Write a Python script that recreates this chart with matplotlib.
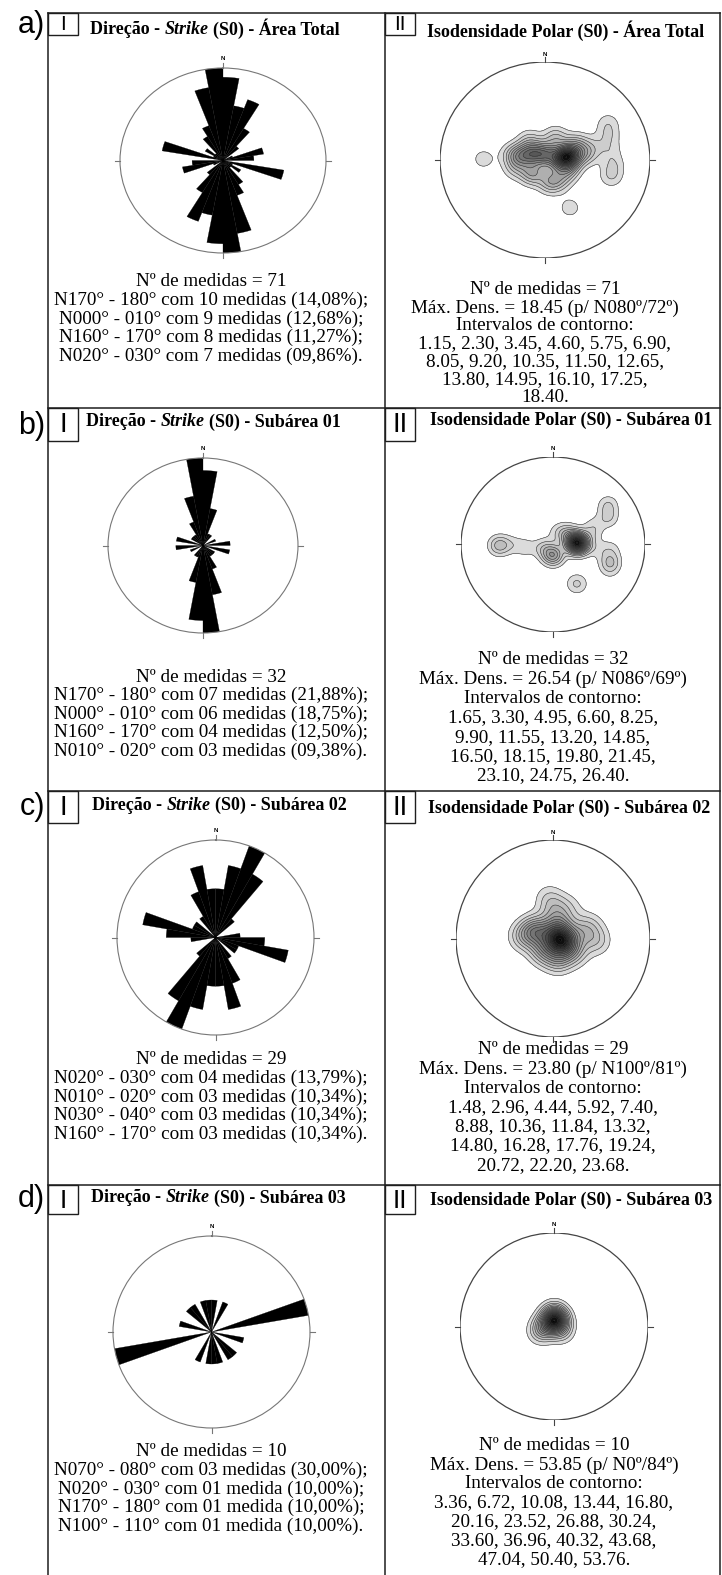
import numpy as np
import matplotlib.pyplot as plt
from matplotlib.patches import Circle, Rectangle

W, H = 722, 1575

# ----------------- dados -----------------
rotulos = ['a)', 'b)', 'c)', 'd)']
areas = ['Área Total', 'Subárea 01', 'Subárea 02', 'Subárea 03']

# contagens por classe de 10° (N000-010, N010-020, ..., N170-180)
rosa_a = [9, 6, 7, 4, 2, 0, 1, 4, 3, 0, 6, 1, 2, 1, 3, 4, 8, 10]
rosa_b = [6, 3, 1, 1, 0, 0, 1, 0, 2, 0, 2, 0, 1, 1, 1, 2, 4, 7]
rosa_c = [2, 3, 4, 3, 1, 0, 0, 0, 1, 2, 3, 1, 1, 0, 1, 2, 3, 2]
rosa_d = [1, 0, 1, 0, 0, 0, 0, 3, 0, 0, 1, 0, 0, 1, 1, 0, 1, 1]

# polos (trend / plunge) e peso relativo de cada agrupamento
trend_a = [80, 90, 0, 297, 280, 254, 221, 167, 143, 114, 62, 24, 323, 81, 281,
           73, 58, 68, 81, 94, 105, 271, 154]
plunge_a = [72, 80, 85, 79, 70, 66, 75, 71, 70, 70, 62, 70, 70, 58, 63,
            50, 30, 35, 37, 35, 35, 41, 45]
peso_a = [8, 3, 4, 4, 3, 1.5, 3, 2.5, 1.5, 2, 2, 2, 1.5, 2, 1,
          0.8, 1, 1, 0.8, 1, 1.2, 1, 1]

trend_b = [86, 51, 90, 180, 248, 264, 270, 269, 20, 72, 53, 63, 95, 108, 116, 150, 64, 96]
plunge_b = [69, 74, 64, 80, 81, 65, 53, 41, 78, 53, 26, 33, 37, 35, 32, 47, 49, 50]
peso_b = [10, 2, 1.5, 4, 1.5, 1, 0.8, 2.5, 0.8, 0.8, 1.4, 1.4, 0.9, 2, 0.6, 1.6, 0.7, 0.7]

trend_c = [100, 0, 294, 220, 166, 17, 0, 27, 75, 93, 274, 122, 72, 353]
plunge_c = [81, 89, 74, 77, 73, 77, 63, 62, 65, 53, 65, 69, 57, 55]
peso_c = [5, 2.5, 3, 2, 2, 2, 1, 0.8, 1, 1.2, 1.5, 1.5, 0.8, 0.6]

trend_d = [0, 45, 270, 248, 122, 0]
plunge_d = [84, 84, 82, 77, 82, 78]
peso_d = [8, 3, 3, 2, 2, 2]

n_medidas = [71, 32, 29, 10]
dens_max = [18.45, 26.54, 23.80, 53.85]
pos_max = ['N080º/72º', 'N086º/69º', 'N100º/81º', 'N0º/84º']

intervalos_a = [1.15, 2.30, 3.45, 4.60, 5.75, 6.90, 8.05, 9.20, 10.35, 11.50,
                12.65, 13.80, 14.95, 16.10, 17.25, 18.40]
intervalos_b = [1.65, 3.30, 4.95, 6.60, 8.25, 9.90, 11.55, 13.20, 14.85, 16.50,
                18.15, 19.80, 21.45, 23.10, 24.75, 26.40]
intervalos_c = [1.48, 2.96, 4.44, 5.92, 7.40, 8.88, 10.36, 11.84, 13.32, 14.80,
                16.28, 17.76, 19.24, 20.72, 22.20, 23.68]
intervalos_d = [3.36, 6.72, 10.08, 13.44, 16.80, 20.16, 23.52, 26.88, 30.24, 33.60,
                36.96, 40.32, 43.68, 47.04, 50.40, 53.76]
quebras = [[6, 5, 4, 1], [5, 4, 4, 3], [5, 4, 4, 3], [5, 4, 4, 3]]

maiores = [
    ['N170° - 180° com 10 medidas (14,08%);', 'N000° - 010° com 9 medidas (12,68%);',
     'N160° - 170° com 8 medidas (11,27%);', 'N020° - 030° com 7 medidas (09,86%).'],
    ['N170° - 180° com 07 medidas (21,88%);', 'N000° - 010° com 06 medidas (18,75%);',
     'N160° - 170° com 04 medidas (12,50%);', 'N010° - 020° com 03 medidas (09,38%).'],
    ['N020° - 030° com 04 medidas (13,79%);', 'N010° - 020° com 03 medidas (10,34%);',
     'N030° - 040° com 03 medidas (10,34%);', 'N160° - 170° com 03 medidas (10,34%).'],
    ['N070° - 080° com 03 medidas (30,00%);', 'N020° - 030° com 01 medida (10,00%);',
     'N170° - 180° com 01 medida (10,00%);', 'N100° - 110° com 01 medida (10,00%).'],
]

rosas = [rosa_a, rosa_b, rosa_c, rosa_d]
polos = [(trend_a, plunge_a, peso_a), (trend_b, plunge_b, peso_b),
         (trend_c, plunge_c, peso_c), (trend_d, plunge_d, peso_d)]
intervalos = [intervalos_a, intervalos_b, intervalos_c, intervalos_d]

# ----------------- layout (pixels) -----------------
topo = [13, 408, 791, 1185]
caixa_alt = [22, 33, 32, 29]
num_tam = [15, 20, 20, 19]
rotulo_y = [25, 426, 807, 1199]
caixa_rosa = [(120, 68, 326, 253), (108, 458, 298, 633), (117, 840, 314, 1035), (113, 1236, 310, 1428)]
caixa_rede = [(440, 62, 650, 258), (461, 457, 645, 632), (456, 840, 650, 1037), (460, 1233, 648, 1420)]
tit_esq = [(90, 29), (86, 422), (92, 805), (91, 1198)]
tit_dir = [(427, 31), (430, 420), (428, 808), (430, 1200)]
txt_esq_y0 = [282, 677, 1060, 1452]
txt_dir_y0 = [290, 660, 1050, 1446]
txt_dir_passo = [18.0, 19.3, 19.2, 19.0]
sigma = [0.08, 0.08, 0.1, 0.09]

SERIF = 'Liberation Serif'
SANS = 'Liberation Sans'
COR_LINHA = '#1e1e1e'

fig = plt.figure(figsize=(W / 100, H / 100), dpi=100)
base = fig.add_axes([0, 0, 1, 1])
base.set_xlim(0, W)
base.set_ylim(H, 0)
base.axis('off')
renderer = fig.canvas.get_renderer()


def eixo(caixa, **kw):
    x0, y0, x1, y1 = caixa
    return fig.add_axes([x0 / W, 1 - y1 / H, (x1 - x0) / W, (y1 - y0) / H], **kw)


def largura(s, **kw):
    t = base.text(0, 0, s, **kw)
    w = t.get_window_extent(renderer).width
    t.remove()
    return w


def texto_misto(x, y, partes, **kw):
    esp = largura('a a', **kw) - largura('aa', **kw)
    for s, estilo in partes:
        x += esp * (len(s) - len(s.lstrip(' ')))
        t = base.text(x, y, s.strip(), fontstyle=estilo, ha='left', va='center', **kw)
        x += t.get_window_extent(renderer).width
        x += esp * (len(s) - len(s.rstrip(' ')))


def marcas(ax, caixa, cor, ext=5, dist_n=10):
    x0, y0, x1, y1 = caixa
    dx, dy = ext / (x1 - x0), ext / (y1 - y0)
    kw = dict(transform=ax.transAxes, clip_on=False, color=cor, lw=0.8)
    ax.plot([0.5, 0.5], [1, 1 + dy], **kw)
    ax.plot([0.5, 0.5], [0, -dy], **kw)
    ax.plot([0, -dx], [0.5, 0.5], **kw)
    ax.plot([1, 1 + dx], [0.5, 0.5], **kw)
    ax.text(0.5, 1 + dist_n / (y1 - y0), 'N', transform=ax.transAxes, ha='center', va='center',
            fontsize=4.5, fontweight='bold', family=SANS)


def rosa(ax, contagens):
    cont = np.array(contagens)
    centros = np.arange(5, 180, 10)
    ang = np.radians(np.concatenate([centros, centros + 180]))
    ax.bar(ang, np.concatenate([cont, cont]), width=np.radians(10), color='black',
           edgecolor='black', linewidth=0.2)
    ax.set_theta_zero_location('N')
    ax.set_theta_direction(-1)
    ax.set_ylim(0, cont.max())
    ax.set_xticks([])
    ax.set_yticks([])
    ax.grid(False)
    ax.spines['polar'].set_color('#777777')
    ax.spines['polar'].set_linewidth(0.8)
    ax.set_aspect('auto')


def rede(ax, trend, plunge, peso, s, dmax, niveis):
    t = np.radians(trend)
    r = np.sqrt(2) * np.sin(np.radians(90 - np.array(plunge)) / 2)
    px, py = r * np.sin(t), r * np.cos(t)
    g = np.linspace(-1, 1, 361)
    X, Y = np.meshgrid(g, g)
    Z = np.zeros_like(X)
    for x, y, w in zip(px, py, peso):
        Z += w * np.exp(-((X - x) ** 2 + (Y - y) ** 2) / (2 * s ** 2))
    Z = Z / Z.max() * dmax
    Z[X ** 2 + Y ** 2 > 1] = np.nan
    cinzas = [str(v) for v in np.linspace(0.86, 0.0, len(niveis))]
    circ = Circle((0, 0), 1, fill=False, ec='#444444', lw=0.9, zorder=5)
    ax.add_patch(circ)
    cs = ax.contourf(X, Y, Z, levels=list(niveis) + [dmax + 1], colors=cinzas)
    cs.set_clip_path(circ)
    cl = ax.contour(X, Y, Z, levels=niveis, colors='#333333', linewidths=0.4)
    cl.set_clip_path(circ)
    ax.set_xlim(-1, 1)
    ax.set_ylim(-1, 1)
    ax.set_aspect('auto')
    ax.axis('off')


# ----------------- molduras -----------------
for y in topo:
    base.plot([48, 720], [y, y], color=COR_LINHA, lw=1.1)
for x in [48, 385, 720]:
    base.plot([x, x], [13, H], color=COR_LINHA, lw=1.1)

for i in range(4):
    y0 = topo[i]
    base.text(45, rotulo_y[i], rotulos[i], ha='right', va='center', fontsize=22, family=SANS)
    for x0, num in [(48, 'I'), (385, 'II')]:
        base.add_patch(Rectangle((x0, y0), 30, caixa_alt[i], fill=False, ec=COR_LINHA, lw=1.0))
        base.text(x0 + 15, y0 + caixa_alt[i] / 2 + 1, num, ha='center', va='center',
                  fontsize=num_tam[i], family=SANS)

    # titulos
    texto_misto(tit_esq[i][0], tit_esq[i][1],
                [('Direção - ', 'normal'), ('Strike', 'italic'), (' (S0) - ' + areas[i], 'normal')],
                fontsize=13, fontweight='bold', family=SERIF)
    base.text(tit_dir[i][0], tit_dir[i][1], 'Isodensidade Polar (S0) - ' + areas[i],
              ha='left', va='center', fontsize=13, fontweight='bold', family=SERIF)

    # diagrama de roseta
    ax_r = eixo(caixa_rosa[i], projection='polar')
    rosa(ax_r, rosas[i])
    marcas(ax_r, caixa_rosa[i], '#777777')

    # isodensidade polar
    ax_s = eixo(caixa_rede[i])
    tr, pl, pe = polos[i]
    rede(ax_s, tr, pl, pe, sigma[i], dens_max[i], intervalos[i])
    marcas(ax_s, caixa_rede[i], '#444444', ext=5, dist_n=8)

    # textos
    linhas_esq = ['Nº de medidas = %d' % n_medidas[i]] + maiores[i]
    xe = 211
    for k, s in enumerate(linhas_esq):
        base.text(xe, txt_esq_y0[i] + 18.6 * k, s, ha='center', va='center',
                  fontsize=13.8, family=SERIF)

    vals = ['%.2f' % v for v in intervalos[i]]
    linhas_int, p = [], 0
    for q in quebras[i]:
        linhas_int.append(', '.join(vals[p:p + q]) + ',')
        p += q
    linhas_int[-1] = linhas_int[-1][:-1] + '.'
    linhas_dir = ['Nº de medidas = %d' % n_medidas[i],
                  'Máx. Dens. = %.2f (p/ %s)' % (dens_max[i], pos_max[i]),
                  'Intervalos de contorno:'] + linhas_int
    xd = (caixa_rede[i][0] + caixa_rede[i][2]) / 2
    for k, s in enumerate(linhas_dir):
        base.text(xd, txt_dir_y0[i] + txt_dir_passo[i] * k, s, ha='center', va='center',
                  fontsize=13.8, family=SERIF)

fig.savefig('out.png', dpi=100)
